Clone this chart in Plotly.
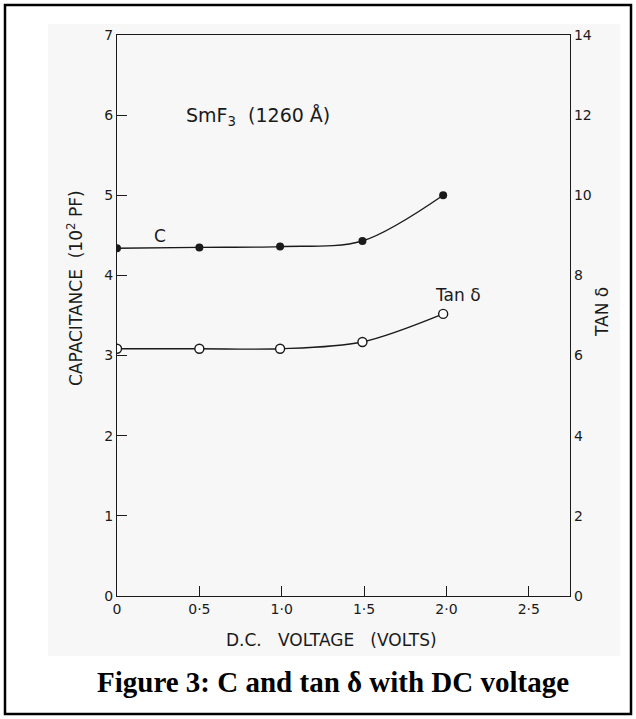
import plotly.graph_objects as go

# ---- data ----
voltage = [0.0, 0.5, 0.99, 1.49, 1.98]
capacitance = [4.34, 4.35, 4.36, 4.43, 5.0]          # 10^2 pF
tan_delta = [6.17, 6.17, 6.17, 6.34, 7.04]

x_tickvals = [0, 0.5, 1.0, 1.5, 2.0, 2.5]
x_ticktext = ["0", "0·5", "1·0", "1·5", "2·0", "2·5"]
y_tickvals = [0, 1, 2, 3, 4, 5, 6, 7]
y2_tickvals = [0, 2, 4, 6, 8, 10, 12, 14]

W, H = 636, 719
L, R, T, B = 117, 66, 35, 123
pw, ph = W - L - R, H - T - B


def px(x):
    return (x - L) / pw


def py(y):
    return (H - B - y) / ph


FONT = "DejaVu Sans"
INK = "#1a1a1a"
GRAY = "#f7f7f7"

fig = go.Figure()

fig.add_trace(go.Scatter(
    x=voltage, y=capacitance, mode="lines+markers",
    line=dict(color=INK, width=1.4, shape="spline", smoothing=0.9),
    marker=dict(symbol="circle", size=8, color=INK),
    showlegend=False, hoverinfo="skip"))

fig.add_trace(go.Scatter(
    x=voltage, y=tan_delta, mode="lines+markers", yaxis="y2",
    line=dict(color=INK, width=1.4, shape="spline", smoothing=0.9),
    marker=dict(symbol="circle", size=9, color="white",
                line=dict(color=INK, width=1.4)),
    showlegend=False, hoverinfo="skip"))

tickfont = dict(size=14, family=FONT, color=INK)
fig.update_layout(
    width=W, height=H,
    margin=dict(l=L, r=R, t=T, b=B, pad=0),
    paper_bgcolor="white", plot_bgcolor=GRAY,
    font=dict(family=FONT, color=INK, size=14),
    xaxis=dict(range=[0, 2.75], tickvals=x_tickvals, ticktext=x_ticktext,
               ticks="inside", ticklen=10, tickcolor=INK, tickwidth=1.2,
               showline=True, linecolor=INK, linewidth=1.2, mirror=True,
               showgrid=False, zeroline=False, tickfont=tickfont),
    yaxis=dict(range=[0, 7], tickvals=y_tickvals,
               ticks="inside", ticklen=10, tickcolor=INK, tickwidth=1.2,
               showline=True, linecolor=INK, linewidth=1.2,
               showgrid=False, zeroline=False, tickfont=tickfont),
    yaxis2=dict(range=[0, 14], tickvals=y2_tickvals, overlaying="y",
                side="right", ticks="", showline=True, linecolor=INK,
                linewidth=1.2, showgrid=False, zeroline=False,
                tickfont=tickfont),
)

shapes = [
    dict(type="rect", xref="paper", yref="paper",
         x0=px(48), x1=px(620), y0=py(656), y1=py(24),
         fillcolor=GRAY, line=dict(width=0), layer="below"),
    dict(type="rect", xref="paper", yref="paper",
         x0=px(5), x1=px(631), y0=py(714), y1=py(5),
         fillcolor="rgba(0,0,0,0)", line=dict(color="black", width=2.5)),
]
fig.update_layout(shapes=shapes)


def pann(text, x, y, size, angle=0, family=FONT, color=INK):
    return dict(text=text, xref="paper", yref="paper", x=px(x), y=py(y),
                xanchor="center", yanchor="middle", textangle=angle,
                showarrow=False, font=dict(size=size, family=family, color=color))


ann = [
    pann("CAPACITANCE  (10<sup>2</sup> PF)", 75, 288, 17, -90),
    pann("TAN δ", 602, 312, 17, -90),
    pann("D.C.   VOLTAGE   (VOLTS)", 331, 640, 17),
    pann("SmF<sub>3</sub>  (1260 Å)", 258, 116, 19),
    dict(text="C", x=0.26, y=4.49, xref="x", yref="y", showarrow=False,
         xanchor="center", yanchor="middle",
         font=dict(size=17, family=FONT, color=INK)),
    dict(text="Tan δ", x=2.07, y=3.75, xref="x", yref="y", showarrow=False,
         xanchor="center", yanchor="middle",
         font=dict(size=17, family=FONT, color=INK)),
    pann("<b>Figure 3: C and tan δ with DC voltage</b>", 333, 682, 29,
         family="Liberation Serif", color="black"),
]
fig.update_layout(annotations=ann)

fig.write_html(
    "out.html",
    config={"displayModeBar": False},
    post_script="document.body.style.margin='0px';document.body.style.padding='0px';",
)
